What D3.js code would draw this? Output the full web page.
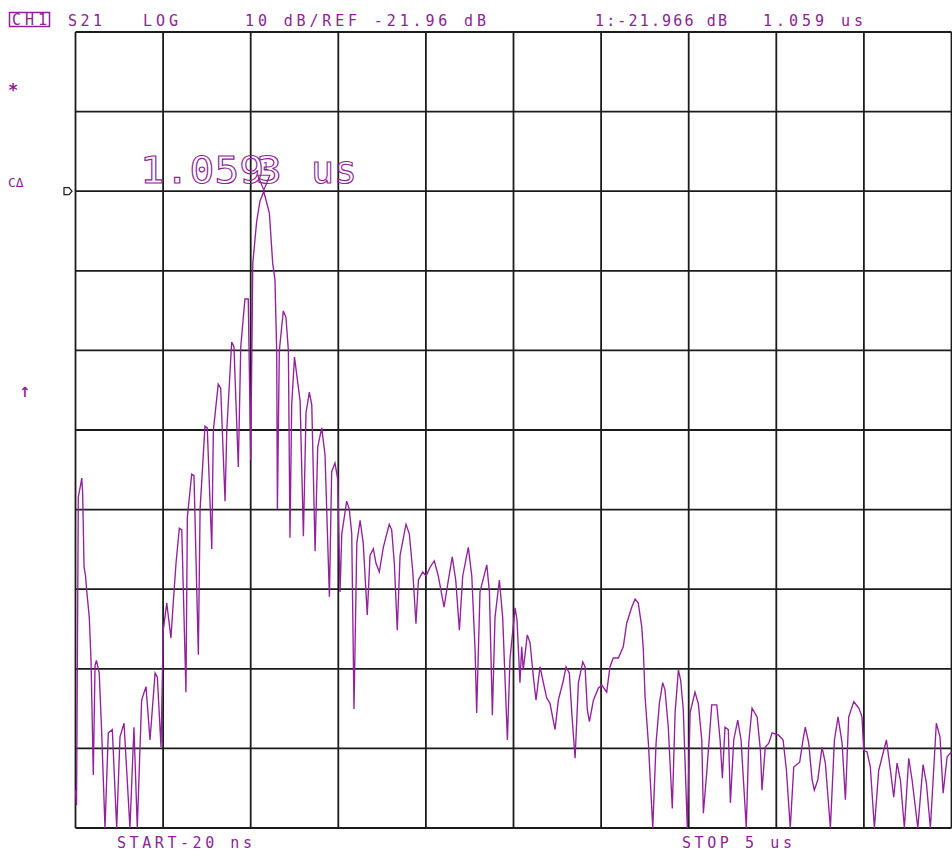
<!DOCTYPE html>
<html>
<head>
<meta charset="utf-8">
<script src="https://cdn.jsdelivr.net/npm/d3@7"></script>
<style>
  body { margin: 0; background: #fff; }
  svg { display: block; }
  .hdr { font-family: "DejaVu Sans Mono", monospace; font-size: 15px; fill: #8c2494; }
</style>
</head>
<body>
<script>
// sweep / scale settings
const startNs = -20
const stopNs = 5000
const refDb = -21.96
const dbPerDiv = 10
const refLine = 2          // ref sits on the 2nd graticule line from the top
const markerNs = 1059
const markerDb = -21.966

// header and footer annotations
const headerLabels = ["S21", "LOG", "10 dB/REF -21.96 dB", "1:-21.966 dB", "1.059 us"]
const footerLabels = ["START-20 ns", "STOP 5 us"]

// trace, time (ns) and magnitude (dB)
const timesNs = [-20, -14, -4, 9, 16, 21, 29, 37, 44, 59, 69, 82, 92, 100, 116, 130, 149, 168, 191, 216,
  235, 258, 292, 315, 334, 359, 384, 407, 436, 449, 470, 483, 503, 527, 541, 556, 575, 589, 613, 621,
  646, 659, 684, 694, 722, 735, 761, 770, 798, 812, 837, 847, 875, 888, 913, 927, 951, 970, 984, 996,
  1018, 1037, 1059, 1091, 1110, 1123, 1133, 1137, 1148, 1171, 1186, 1200, 1209, 1219, 1235, 1267, 1286, 1301, 1320, 1334,
  1353, 1368, 1391, 1410, 1435, 1448, 1467, 1483, 1496, 1506, 1534, 1549, 1563, 1576, 1592, 1611, 1629, 1652, 1668, 1687,
  1702, 1721, 1744, 1778, 1792, 1807, 1824, 1840, 1874, 1893, 1913, 1931, 1945, 1970, 1989, 2012, 2036, 2059, 2092, 2117,
  2139, 2159, 2180, 2199, 2231, 2251, 2270, 2279, 2298, 2337, 2352, 2369, 2384, 2409, 2428, 2455, 2470, 2499, 2510, 2527,
  2537, 2546, 2569, 2585, 2604, 2619, 2642, 2661, 2680, 2699, 2728, 2747, 2776, 2791, 2810, 2824, 2843, 2862, 2887, 2900,
  2913, 2925, 2948, 2976, 2996, 3024, 3043, 3062, 3091, 3119, 3139, 3168, 3187, 3205, 3225, 3234, 3244, 3263, 3288, 3307,
  3326, 3345, 3358, 3377, 3400, 3416, 3435, 3448, 3463, 3486, 3502, 3530, 3549, 3569, 3578, 3597, 3626, 3655, 3674, 3687,
  3702, 3721, 3733, 3752, 3775, 3794, 3824, 3838, 3857, 3886, 3905, 3914, 3933, 3953, 3972, 4010, 4035, 4054, 4076, 4096,
  4130, 4149, 4162, 4182, 4201, 4214, 4234, 4258, 4277, 4306, 4329, 4350, 4373, 4392, 4411, 4440, 4469, 4487, 4497, 4516,
  4535, 4558, 4583, 4627, 4650, 4669, 4688, 4707, 4730, 4755, 4774, 4807, 4837, 4856, 4879, 4913, 4934, 4952, 4975, 5000]

const levelsDb = [-97.2, -99.1, -60.4, -58.9, -58.0, -59.9, -69.2, -70.2, -72.1, -75.5, -80.9, -95.3, -81.5, -80.9, -82.5, -89.9, -105, -90.0, -89.6, -105,
  -90.5, -88.8, -105, -89.3, -105, -85.9, -84.2, -90.9, -82.5, -83.0, -91.8, -77.1, -73.7, -78.1, -73.4, -68.7, -64.3, -64.5, -84.9, -62.9,
  -57.5, -57.7, -80.2, -61.9, -51.5, -51.7, -66.9, -52.0, -46.2, -46.7, -60.9, -52.0, -40.9, -41.5, -56.6, -41.5, -35.5, -35.5, -55.7, -31.0,
  -25.8, -23.2, -22.0, -24.7, -31.0, -33.1, -42.0, -61.9, -42.0, -37.0, -37.8, -42.0, -65.5, -48.8, -42.8, -48.3, -65.3, -49.8, -47.2, -48.8,
  -67.2, -54.1, -51.7, -55.1, -72.9, -57.2, -56.1, -58.2, -72.3, -65.0, -60.9, -61.9, -65.0, -87.0, -66.2, -63.3, -66.2, -75.2, -67.7, -66.9,
  -68.7, -69.8, -66.7, -63.8, -64.5, -68.7, -77.1, -67.7, -63.8, -65.0, -69.8, -76.3, -70.8, -69.8, -70.3, -69.2, -68.4, -70.3, -74.2, -70.8,
  -67.9, -70.8, -77.1, -70.3, -66.7, -70.3, -79.7, -87.5, -72.3, -68.9, -72.3, -87.8, -75.5, -70.8, -75.5, -90.9, -80.7, -74.3, -75.8, -83.7,
  -79.2, -82.1, -77.7, -78.7, -83.0, -85.9, -81.7, -83.7, -85.6, -86.3, -89.6, -85.9, -83.4, -81.7, -82.5, -87.5, -93.2, -83.7, -81.1, -81.7,
  -87.1, -88.6, -85.9, -84.4, -84.0, -84.9, -81.7, -80.6, -80.6, -79.2, -76.2, -74.2, -73.2, -73.7, -76.7, -79.6, -85.5, -91.3, -105, -91.3,
  -86.3, -83.7, -84.6, -89.3, -99.5, -87.5, -82.1, -83.4, -87.1, -105, -87.5, -84.9, -86.3, -90.9, -100.1, -95.1, -86.5, -86.5, -90.9, -95.7,
  -89.3, -89.6, -98.8, -90.9, -88.4, -90.9, -105, -91.3, -86.9, -88.0, -92.2, -97.2, -91.8, -91.3, -90.0, -90.3, -90.9, -94.7, -105, -94.3,
  -93.7, -90.9, -89.3, -91.3, -95.9, -97.2, -95.9, -91.8, -93.8, -105, -90.9, -88.0, -91.3, -98.4, -88.0, -86.1, -86.9, -88.0, -92.2, -92.4,
  -94.3, -105, -94.7, -90.9, -94.7, -98.1, -93.8, -95.9, -105, -93.2, -95.9, -105, -94.0, -96.3, -105, -88.8, -90.5, -97.6, -93.0, -92.4]

const width = 952
const height = 855
const traceColor = "#93209d"
const textColor = "#8c2494"

const topDb = refDb + refLine * dbPerDiv
const bottomDb = topDb - 10 * dbPerDiv

const x = d3.scaleLinear().domain([startNs, stopNs]).range([75.5, 951.5])
const y = d3.scaleLinear().domain([bottomDb, topDb]).range([828, 32]).clamp(true)

const svg = d3.select("body").append("svg")
  .attr("width", width)
  .attr("height", height)

// graticule
const xTicks = d3.range(11).map(i => startNs + i * (stopNs - startNs) / 10)
const yTicks = d3.range(11).map(i => topDb - i * dbPerDiv)
const grid = svg.append("g").attr("stroke", "#1c1c1c").attr("stroke-width", 1.8)
grid.selectAll("line.v").data(xTicks).enter().append("line")
  .attr("class", "v")
  .attr("x1", d => x(d)).attr("x2", d => x(d))
  .attr("y1", y(topDb)).attr("y2", y(bottomDb))
grid.selectAll("line.h").data(yTicks).enter().append("line")
  .attr("class", "h")
  .attr("x1", x(startNs)).attr("x2", x(stopNs))
  .attr("y1", d => y(d)).attr("y2", d => y(d))

// trace
const points = d3.zip(timesNs, levelsDb)
const line = d3.line().x(d => x(d[0])).y(d => y(d[1]))
svg.append("path")
  .datum(points)
  .attr("fill", "none")
  .attr("stroke", traceColor)
  .attr("stroke-width", 1.35)
  .attr("d", line)

// marker 1 at the peak
const mx = x(markerNs), my = y(markerDb)
svg.append("path")
  .attr("d", `M${mx - 6},${my - 16} L${mx + 6},${my - 16} L${mx},${my - 1} Z`)
  .attr("fill", "none").attr("stroke", traceColor).attr("stroke-width", 1.2)
svg.append("text")
  .attr("x", mx + 2).attr("y", my - 21)
  .attr("text-anchor", "middle")
  .attr("font-family", "DejaVu Sans Mono, monospace").attr("font-size", 10)
  .attr("fill", traceColor)
  .text("1")

// big marker readout, hollow vector-style digits
const big = svg.append("g")
  .attr("font-family", "DejaVu Sans Mono, monospace")
  .attr("font-size", 38)
  .attr("fill", "none").attr("stroke", textColor).attr("stroke-width", 1.1)
big.append("text").attr("x", 140).attr("y", 183).attr("textLength", 124).attr("lengthAdjust", "spacingAndGlyphs").text("1.059")
big.append("text").attr("x", 256).attr("y", 183).attr("textLength", 26).attr("lengthAdjust", "spacingAndGlyphs").text("3")
big.append("text").attr("x", 311).attr("y", 183).attr("textLength", 46).attr("lengthAdjust", "spacingAndGlyphs").text("us")

// header / footer text, stretched to the widths seen on screen
const headerX = [68, 143, 245, 595, 763]
const headerW = [34, 35, 241, 132, 100]
const footerX = [117, 682]
const footerW = [135, 110]

svg.append("rect")
  .attr("x", 9.5).attr("y", 12.5).attr("width", 40).attr("height", 14)
  .attr("fill", "none").attr("stroke", textColor).attr("stroke-width", 1.5)
svg.append("text").attr("class", "hdr").attr("x", 12).attr("y", 25)
  .attr("textLength", 35).attr("lengthAdjust", "spacing").text("CH1")
svg.selectAll("text.top").data(headerLabels).enter().append("text")
  .attr("class", "hdr top")
  .attr("x", (d, i) => headerX[i]).attr("y", 26)
  .attr("textLength", (d, i) => headerW[i]).attr("lengthAdjust", "spacing")
  .text(d => d)
svg.selectAll("text.bot").data(footerLabels).enter().append("text")
  .attr("class", "hdr bot")
  .attr("x", (d, i) => footerX[i]).attr("y", 848)
  .attr("textLength", (d, i) => footerW[i]).attr("lengthAdjust", "spacing")
  .text(d => d)

// left side annunciators
svg.append("text").attr("x", 8).attr("y", 96)
  .attr("font-family", "DejaVu Sans Mono, monospace").attr("font-size", 17).attr("font-weight", "bold")
  .attr("fill", textColor).text("*")
svg.append("text").attr("x", 8).attr("y", 187)
  .attr("font-family", "DejaVu Sans Mono, monospace").attr("font-size", 13)
  .attr("fill", textColor).text("CΔ")
svg.append("text").attr("x", 19).attr("y", 397)
  .attr("font-family", "DejaVu Sans, sans-serif").attr("font-size", 14).attr("font-weight", "bold")
  .attr("fill", textColor).text("↑")

// reference position pointer
const ry = y(refDb)
svg.append("path")
  .attr("d", `M64,${ry - 3.5} L69,${ry - 3.5} L72,${ry} L69,${ry + 3.5} L64,${ry + 3.5} Z`)
  .attr("fill", "none").attr("stroke", "#222").attr("stroke-width", 1.3)
</script>
</body>
</html>
